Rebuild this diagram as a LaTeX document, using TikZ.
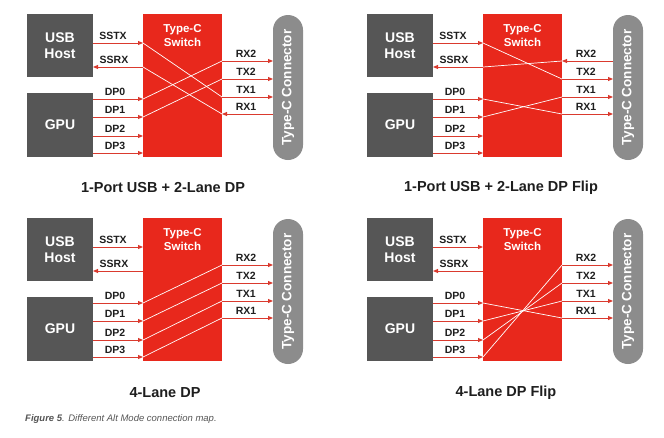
\documentclass[tikz,border=0pt]{standalone}
\usepackage{fontspec}
\setmainfont{Liberation Sans}
\usetikzlibrary{arrows.meta}
\definecolor{hostgray}{HTML}{565656}
\definecolor{swred}{HTML}{E8281C}
\definecolor{wirered}{HTML}{DA3A2E}
\definecolor{congray}{HTML}{8C8C8C}
\definecolor{txtdark}{HTML}{1E1E1E}
\definecolor{capgray}{HTML}{555555}
\tikzset{
  hostbox/.style={fill=hostgray, text=white, font=\bfseries\fontsize{14}{16}\selectfont,
    align=center, inner sep=0pt, minimum width=66pt, minimum height=63pt},
  swbox/.style={fill=swred, inner sep=0pt, minimum width=79pt, minimum height=143pt},
  swtext/.style={text=white, font=\bfseries\fontsize{11.5}{14}\selectfont, align=center, inner sep=0pt},
  conbox/.style={fill=congray, text=white, font=\bfseries\fontsize{13.5}{15}\selectfont,
    rounded corners=15pt, rotate=90, inner sep=0pt, minimum width=145pt, minimum height=30pt},
  pinlabel/.style={text=txtdark, font=\bfseries\fontsize{10.5}{12}\selectfont, inner sep=0pt, anchor=base},
  wire/.style={draw=wirered, line width=0.9pt, -{Triangle[length=5pt,width=4pt]}},
  inner/.style={draw=white, line width=0.7pt},
  title/.style={text=txtdark, font=\bfseries\fontsize{14.5}{16}\selectfont, inner sep=0pt},
}
\newcommand\altpanel[3]{%
  \begin{scope}[shift={(#2,#3)}]
    \node[hostbox] (#1-host) at (60,45.5) {USB\\Host};
    \node[hostbox, minimum height=64pt] (#1-gpu) at (60,125) {GPU};
    \node[swbox] (#1-sw) at (182.5,85.5) {};
    \node[swtext] (#1-swt) at (182.5,36) {Type-C\\Switch};
    \node[conbox] (#1-con) at (288,87.5) {Type-C Connector};
    % pins, left side
    \coordinate (#1-sstxA) at (93,43);  \coordinate (#1-sstxB) at (143,43);
    \coordinate (#1-ssrxA) at (93,67);  \coordinate (#1-ssrxB) at (143,67);
    \coordinate (#1-dp0A) at (93,99);   \coordinate (#1-dp0B) at (143,99);
    \coordinate (#1-dp1A) at (93,117);  \coordinate (#1-dp1B) at (143,117);
    \coordinate (#1-dp2A) at (93,136);  \coordinate (#1-dp2B) at (143,136);
    \coordinate (#1-dp3A) at (93,153);  \coordinate (#1-dp3B) at (143,153);
    % pins, right side
    \coordinate (#1-rx2A) at (222,61);  \coordinate (#1-rx2B) at (273,61);
    \coordinate (#1-tx2A) at (222,79);  \coordinate (#1-tx2B) at (273,79);
    \coordinate (#1-tx1A) at (222,97);  \coordinate (#1-tx1B) at (273,97);
    \coordinate (#1-rx1A) at (222,114); \coordinate (#1-rx1B) at (273,114);
    % labels
    \node[pinlabel] (#1-lsstx) at (113,39.5) {SSTX};
    \node[pinlabel] (#1-lssrx) at (114,63.5) {SSRX};
    \node[pinlabel] (#1-ldp0) at (115,95.5) {DP0};
    \node[pinlabel] (#1-ldp1) at (115,113.5) {DP1};
    \node[pinlabel] (#1-ldp2) at (115,132.5) {DP2};
    \node[pinlabel] (#1-ldp3) at (115,149.5) {DP3};
    \node[pinlabel] (#1-lrx2) at (246,57.5) {RX2};
    \node[pinlabel] (#1-ltx2) at (246,75.5) {TX2};
    \node[pinlabel] (#1-ltx1) at (246,93.5) {TX1};
    \node[pinlabel] (#1-lrx1) at (246,110.5) {RX1};
    % common wires
    \draw[wire] (#1-sstxA) -- (#1-sstxB);
    \draw[wire] (#1-ssrxB) -- (#1-ssrxA);
    \draw[wire] (#1-dp0A) -- (#1-dp0B);
    \draw[wire] (#1-dp1A) -- (#1-dp1B);
    \draw[wire] (#1-dp2A) -- (#1-dp2B);
    \draw[wire] (#1-dp3A) -- (#1-dp3B);
    \draw[wire] (#1-tx2A) -- (#1-tx2B);
    \draw[wire] (#1-tx1A) -- (#1-tx1B);
  \end{scope}}
\begin{document}
\begin{tikzpicture}[x=1pt, y=-1pt]
  \path[use as bounding box] (0,0) rectangle (664,437);
  % Panel 1: 1-Port USB + 2-Lane DP
  \altpanel{a}{0}{0}
  \draw[wire] (a-rx2A) -- (a-rx2B);
  \draw[wire] (a-rx1B) -- (a-rx1A);
  \draw[inner] (a-sstxB) -- (a-tx1A);
  \draw[inner] (a-ssrxB) -- (a-rx1A);
  \draw[inner] (a-dp0B) -- (a-rx2A);
  \draw[inner] (a-dp1B) -- (a-tx2A);
  \node[title] (a-title) at (163,188) {1-Port USB + 2-Lane DP};
  % Panel 2: 1-Port USB + 2-Lane DP Flip
  \altpanel{b}{340}{0}
  \draw[wire] (b-rx2B) -- (b-rx2A);
  \draw[wire] (b-rx1A) -- (b-rx1B);
  \draw[inner] (b-sstxB) -- (b-tx2A);
  \draw[inner] (b-ssrxB) -- (b-rx2A);
  \draw[inner] (b-dp0B) -- (b-rx1A);
  \draw[inner] (b-dp1B) -- (b-tx1A);
  \node[title] (b-title) at (501,188) {1-Port USB + 2-Lane DP Flip};
  % Panel 3: 4-Lane DP
  \altpanel{c}{0}{204}
  \draw[wire] (c-rx2A) -- (c-rx2B);
  \draw[wire] (c-rx1A) -- (c-rx1B);
  \draw[inner] (c-dp0B) -- (c-rx2A);
  \draw[inner] (c-dp1B) -- (c-tx2A);
  \draw[inner] (c-dp2B) -- (c-tx1A);
  \draw[inner] (c-dp3B) -- (c-rx1A);
  \node[title] (c-title) at (165,393) {4-Lane DP};
  % Panel 4: 4-Lane DP Flip
  \altpanel{d}{340}{204}
  \draw[wire] (d-rx2A) -- (d-rx2B);
  \draw[wire] (d-rx1A) -- (d-rx1B);
  \draw[inner] (d-dp0B) -- (d-rx1A);
  \draw[inner] (d-dp1B) -- (d-tx1A);
  \draw[inner] (d-dp2B) -- (d-tx2A);
  \draw[inner] (d-dp3B) -- (d-rx2A);
  \node[title] (d-title) at (506,393) {4-Lane DP Flip};
  % caption
  \node[anchor=base west, inner sep=0pt, text=capgray, font=\itshape\fontsize{9.5}{11}\selectfont]
    (caption) at (25,421) {\textbf{Figure 5}. Different Alt Mode connection map.};
\end{tikzpicture}
\end{document}
